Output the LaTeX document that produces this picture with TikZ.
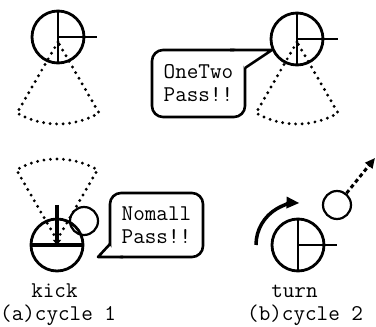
\documentclass[tikz,border=0pt]{standalone}
\usetikzlibrary{arrows.meta}
\begin{document}
\begin{tikzpicture}[x=1pt,y=1pt,
  robot/.style={circle,draw,line width=2.8pt,minimum size=52pt,inner sep=0pt},
  ball/.style={circle,draw,line width=2.2pt,minimum size=28pt,inner sep=0pt},
  bar/.style={line width=2.6pt},
  heavybar/.style={line width=4pt},
  sight/.style={line width=3.2pt,line cap=round,dash pattern=on 0pt off 6.5pt},
  bubble/.style={draw,line width=2.6pt,rounded corners=11pt,align=center,
    font=\ttfamily\fontsize{22.5}{23}\selectfont,inner sep=0pt,fill=white},
  tail/.style={line width=2.6pt,line join=round},
  lbl/.style={font=\ttfamily\fontsize{22.5}{23}\selectfont,inner sep=0pt,anchor=base}]
\useasboundingbox (0,0) rectangle (376,327);

% ---- top-left robot (cycle 1)
\node[robot] (r1) at (58,290) {};
\draw[sight] (58,285) -- ++(240:82) arc[start angle=240,end angle=300,radius=82] -- cycle;
\draw[bar] (r1.north) -- (r1.south);
\draw[bar] (r1.center) -- (97,290);

% ---- top-right robot (cycle 2)
\node[robot] (r2) at (297,288) {};
\draw[sight] (297,285) -- ++(240:82) arc[start angle=240,end angle=300,radius=82] -- cycle;
\draw[bar] (r2.north) -- (r2.south);
\draw[bar] (r2.center) -- (338,288);

% ---- OneTwo bubble
\node[bubble,minimum width=93pt,minimum height=67pt] (b1) at (198.5,243.5) {OneTwo\\Pass!!};
\coordinate (t1) at (272,277);
\fill[white] (234,276) -- (t1) -- (245,259) -- cycle;
\draw[tail] (230,277) -- (t1) -- (245,259);

% ---- bottom-left robot (kick)
\draw[sight] (57,87) -- ++(60:81) arc[start angle=60,end angle=120,radius=81] -- cycle;
\node[robot] (r3) at (57,82) {};
\draw[heavybar] (r3.west) -- (r3.east);
\draw[heavybar,-{Triangle[length=5pt,width=8pt]}] (57,122) -- (r3.center);
\node[ball] (ball1) at (84,106) {};

% ---- Nomall bubble
\node[bubble,minimum width=93pt,minimum height=64pt] (b2) at (156.5,102) {Nomall\\Pass!!};
\coordinate (t2) at (98,70);
\fill[white] (110,81) -- (t2) -- (121,71) -- cycle;
\draw[tail] (110,83) -- (t2) -- (123,70);

% ---- bottom-right robot (turn)
\node[robot] (r4) at (298,82) {};
\draw[bar] (r4.north) -- (r4.south);
\draw[bar] (r4.center) -- (337,82);
\draw[line width=3.5pt,-{Triangle[length=13pt,width=11pt]}]
  (r4.center) ++(180:42) arc[start angle=180,end angle=88,radius=42];
\node[ball] (ball2) at (337,122) {};
\coordinate (aim) at (375,169);
\draw[line width=3pt,dash pattern=on 4pt off 3pt,-{Triangle[length=10pt,width=9pt]}] (ball2) -- (aim);

% ---- labels
\node[lbl] (kick) at (54.5,29) {kick};
\node[lbl] (turn) at (294.5,29) {turn};
\node[lbl,anchor=base west] (capa) at (0,6) {(a)cycle 1};
\node[lbl,anchor=base west] (capb) at (247,6) {(b)cycle 2};
\end{tikzpicture}
\end{document}
